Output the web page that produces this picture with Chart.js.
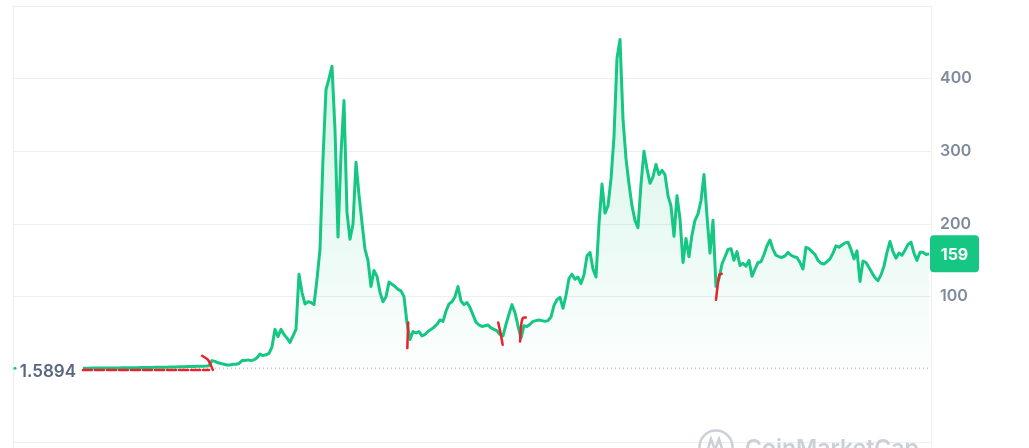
<!DOCTYPE html>
<html>
<head>
<meta charset="utf-8">
<script src="https://cdn.jsdelivr.net/npm/chart.js@4.4.1/dist/chart.umd.min.js"></script>
<style>
  html, body { margin: 0; padding: 0; background: #ffffff; overflow: hidden; }
  #wrap { width: 1029px; height: 448px; position: relative; }
</style>
</head>
<body>
<div id="wrap"><canvas id="c" width="1029" height="448"></canvas></div>
<script>
// ---- data (equally spaced samples) ----
const basePrice = 1.5894;
const lastPrice = 159;
const yTickValues = [100, 200, 300, 400];
const prices = [
  1.59,1.6,1.6,1.7,1.7,1.8,1.8,1.8,1.9,1.9,
  2.0,2.0,2.0,2.1,2.1,2.2,2.2,2.3,2.3,2.4,
  2.4,2.5,2.6,2.6,2.7,2.8,2.9,3.0,3.0,3.1,
  3.2,3.3,3.4,3.5,3.6,3.8,3.9,4.0,4.1,4.2,
  4.3,4.5,5,12,11,9,8,7,6,6,
  7,7,8,12,12,13,12,13,16,21,
  19,20,22,31,55,45,55,48,43,37,
  46,55,131,106,90,93,92,89,124,165,
  290,385,400,417,330,182,296,370,216,179,
  200,285,240,202,165,150,114,136,128,106,
  93,100,120,117,114,110,108,100,64,41,
  52,50,52,46,48,52,55,58,62,68,
  66,80,90,93,100,114,94,89,92,85,
  75,65,61,59,60,61,57,55,53,48,
  46,62,76,89,78,60,43,60,59,62,
  66,67,68,67,66,67,72,88,96,99,
  84,102,125,131,124,127,118,130,156,161,
  138,127,200,255,215,225,262,320,428,454,
  345,290,255,225,205,195,255,300,276,256,
  265,282,268,274,268,239,225,183,239,207,
  147,180,155,185,205,214,232,268,211,160,
  205,114,125,145,155,165,166,150,162,143,
  146,142,150,128,138,147,148,158,170,178,
  165,157,155,154,156,161,157,155,154,147,
  138,168,166,162,158,150,146,145,148,152,
  160,170,168,171,174,175,165,152,163,121,
  149,147,140,133,126,122,130,142,161,176,
  162,153,160,157,164,172,175,160,150,161,
  161,158,159
];
// hand-drawn red marks on the reference, as [sample index, price] pairs
const redBase = [[0,-1],[42,-1]];
const redMark1 = [[39.7,18.6],[41.7,13],[43.3,-0.7]];
const redMark2 = [[108.4,64.4],[108.1,29.2]];
const redMark3 = [[138.4,64.4],[139.2,49.8],[139.9,33.7]];
const redMark4 = [[145.7,38.3],[146,58.9],[146.6,70.5],[147.6,71.3]];
const redMark5 = [[211,95.6],[212.1,130],[212.9,131.4]];

const X_MIN = -23.33, X_MAX = 282.67;
const GREEN = '#16c784';
const GRID = '#eceef2';
const RED = '#e8232b';

const toXY = arr => arr.map(p => ({x: p[0], y: p[1]}));
const redDs = (pts, dash) => ({
  data: toXY(pts), borderColor: RED, borderWidth: 2.5, pointRadius: 0,
  borderDash: dash || [], borderCapStyle: 'round', fill: false, tension: 0.3, order: 0
});

const decor = {
  id: 'decor',
  beforeDatasetsDraw(chart) {
    const {ctx, chartArea: a} = chart;
    ctx.save();
    ctx.strokeStyle = GRID;
    ctx.lineWidth = 1;
    ctx.beginPath();
    ctx.moveTo(Math.round(a.left) + 0.5, a.top);
    ctx.lineTo(Math.round(a.left) + 0.5, chart.height);
    ctx.moveTo(Math.round(a.right) + 0.5, a.top);
    ctx.lineTo(Math.round(a.right) + 0.5, chart.height);
    ctx.stroke();
    ctx.restore();
  },
  afterDraw(chart) {
    const {ctx, chartArea: a, scales} = chart;
    const xs = scales.x, ys = scales.y;
    const by = ys.getPixelForValue(basePrice);
    ctx.save();
    // tiny marker at left edge
    ctx.fillStyle = GREEN;
    ctx.beginPath(); ctx.arc(a.left + 2, by, 1.5, 0, Math.PI * 2); ctx.fill();
    // base price label
    ctx.fillStyle = '#58667e';
    ctx.font = '600 17px Inter, "Noto Sans", sans-serif';
    ctx.textAlign = 'right';
    ctx.textBaseline = 'middle';
    ctx.fillText(String(basePrice), xs.getPixelForValue(0) - 7, by + 4);
    // last price badge
    const ly = ys.getPixelForValue(lastPrice);
    const bx = a.right - 1, bw = 49, bh = 37;
    ctx.fillStyle = GREEN;
    ctx.beginPath();
    ctx.roundRect(bx, ly - bh / 2, bw, bh, 4);
    ctx.fill();
    ctx.fillStyle = '#ffffff';
    ctx.font = '700 16px Inter, "Noto Sans", sans-serif';
    ctx.textAlign = 'center';
    ctx.fillText(String(lastPrice), bx + bw / 2, ly + 1);
    // watermark
    ctx.strokeStyle = '#cbd0d8';
    ctx.lineWidth = 2.5;
    ctx.beginPath(); ctx.arc(716, 447, 16.5, 0, Math.PI * 2); ctx.stroke();
    ctx.beginPath();
    ctx.moveTo(707, 452); ctx.lineTo(711, 439); ctx.lineTo(715, 450); ctx.lineTo(719, 439); ctx.lineTo(723, 452);
    ctx.stroke();
    ctx.fillStyle = '#cbd0d8';
    ctx.font = '600 23px Inter, "Noto Sans", sans-serif';
    ctx.textAlign = 'left';
    ctx.textBaseline = 'alphabetic';
    ctx.fillText('CoinMarketCap', 745, 456);
    ctx.restore();
  }
};

new Chart(document.getElementById('c'), {
  type: 'line',
  data: {
    datasets: [
      redDs(redBase, [9, 3]),
      redDs(redMark1), redDs(redMark2), redDs(redMark3), redDs(redMark4), redDs(redMark5),
      {
        data: prices.map((v, i) => ({x: i, y: v})),
        borderColor: GREEN,
        borderWidth: 3,
        pointRadius: 0,
        tension: 0,
        borderJoinStyle: 'round',
        fill: {value: basePrice},
        backgroundColor: (ctx) => {
          const ch = ctx.chart, a = ch.chartArea;
          if (!a) return 'rgba(22,199,132,0.1)';
          const by = ch.scales.y.getPixelForValue(basePrice);
          const g = ch.ctx.createLinearGradient(0, a.top, 0, by);
          g.addColorStop(0, 'rgba(22,199,132,0.22)');
          g.addColorStop(1, 'rgba(22,199,132,0.01)');
          return g;
        },
        order: 2
      },
      {
        data: [{x: 0, y: basePrice}, {x: X_MAX, y: basePrice}],
        borderColor: '#a3aab6',
        borderWidth: 1,
        borderDash: [1, 3],
        pointRadius: 0,
        fill: false,
        order: 3
      }
    ]
  },
  options: {
    responsive: false,
    animation: false,
    events: [],
    layout: { padding: { left: 13, top: 6, bottom: 6, right: 0 } },
    plugins: { legend: { display: false }, tooltip: { enabled: false } },
    scales: {
      x: { type: 'linear', min: X_MIN, max: X_MAX, display: false },
      y: {
        position: 'right',
        min: -100, max: 500,
        afterFit: (s) => { s.width = 98; s.paddingTop = 0; s.paddingBottom = 0; },
        afterBuildTicks: (s) => {
          s.ticks = [-100, 0, ...yTickValues, 500].map(v => ({value: v}));
        },
        grid: {
          drawTicks: false,
          color: (c) => (c.tick && c.tick.value === 0) ? 'rgba(0,0,0,0)' : GRID,
          lineWidth: 1
        },
        border: { display: true, color: GRID },
        ticks: {
          padding: 9,
          color: '#808a9d',
          font: { family: 'Inter, "Noto Sans", sans-serif', size: 16, weight: '600' },
          callback: (v) => yTickValues.includes(v) ? String(v) : ''
        }
      }
    }
  },
  plugins: [decor]
});
</script>
</body>
</html>
